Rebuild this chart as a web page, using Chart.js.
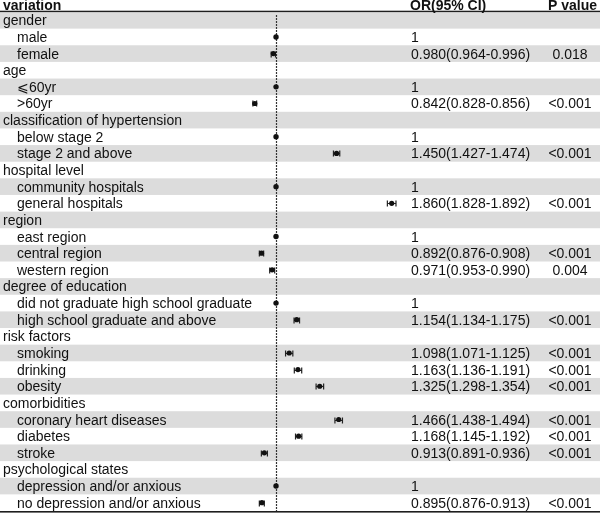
<!DOCTYPE html>
<html>
<head>
<meta charset="utf-8">
<script src="https://cdn.jsdelivr.net/npm/chart.js@4/dist/chart.umd.min.js"></script>
<style>
  html, body { margin: 0; padding: 0; background: #fff; overflow: hidden; }
  canvas { display: block; }
</style>
</head>
<body>
<canvas id="forestChart" width="600" height="515"></canvas>
<script>
const rowLabels = ['gender', 'male', 'female', 'age', '⩽60yr', '>60yr',
    'classification of hypertension', 'below stage 2', 'stage 2 and above',
    'hospital level', 'community hospitals', 'general hospitals',
    'region', 'east region', 'central region', 'western region',
    'degree of education', 'did not graduate high school graduate', 'high school graduate and above',
    'risk factors', 'smoking', 'drinking', 'obesity',
    'comorbidities', 'coronary heart diseases', 'diabetes', 'stroke',
    'psychological states', 'depression and/or anxious', 'no depression and/or anxious'];
const groupRows = [0, 3, 6, 9, 12, 16, 19, 23, 27];
const orValues = [null, 1, 0.980, null, 1, 0.842, null, 1, 1.450, null, 1, 1.860, null, 1, 0.892, 0.971,
    null, 1, 1.154, null, 1.098, 1.163, 1.325, null, 1.466, 1.168, 0.913, null, 1, 0.895];
const ciLow = [null, null, 0.964, null, null, 0.828, null, null, 1.427, null, null, 1.828, null, null, 0.876, 0.953,
    null, null, 1.134, null, 1.071, 1.136, 1.298, null, 1.438, 1.145, 0.891, null, null, 0.876];
const ciHigh = [null, null, 0.996, null, null, 0.856, null, null, 1.474, null, null, 1.892, null, null, 0.908, 0.990,
    null, null, 1.175, null, 1.125, 1.191, 1.354, null, 1.494, 1.192, 0.936, null, null, 0.913];
const pValues = ['', '', '0.018', '', '', '<0.001', '', '', '<0.001', '', '', '<0.001', '', '', '<0.001', '0.004',
    '', '', '<0.001', '', '<0.001', '<0.001', '<0.001', '', '<0.001', '<0.001', '<0.001', '', '', '<0.001'];
const headers = ['variation', 'OR(95% CI)', 'P value'];

const FONT = '"Liberation Sans", Arial, sans-serif';

const refPoints = [];
const estPoints = [];
orValues.forEach((v, i) => {
    if (v === null) return;
    if (ciLow[i] === null) refPoints.push({ x: v, y: rowLabels[i] });
    else estPoints.push({ x: v, y: rowLabels[i], lo: ciLow[i], hi: ciHigh[i] });
});

const orText = orValues.map((v, i) => {
    if (v === null) return '';
    if (ciLow[i] === null) return String(v);
    return v.toFixed(3) + '(' + ciLow[i].toFixed(3) + '-' + ciHigh[i].toFixed(3) + ')';
});

// stripes, reference line, whiskers and table text
const tablePlugin = {
    id: 'table',
    beforeDatasetsDraw(chart) {
        const ctx = chart.ctx;
        const x = chart.scales.x, y = chart.scales.y;
        const band = y.getPixelForValue(1) - y.getPixelForValue(0);
        ctx.save();
        rowLabels.forEach((lab, i) => {
            if (i % 2 === 0) {
                const cy = y.getPixelForValue(i);
                ctx.fillStyle = '#dcdcdc';
                ctx.fillRect(0, cy - band / 2, chart.width, band);
            }
        });
        // header and bottom rules
        ctx.fillStyle = '#1e1e1e';
        ctx.fillRect(0, 10.7, chart.width, 1.4);
        ctx.fillRect(0, chart.chartArea.bottom, chart.width, 1.6);

        // dashed line at OR = 1
        const x1 = Math.round(x.getPixelForValue(1)) + 0.5;
        ctx.strokeStyle = '#333';
        ctx.lineWidth = 1.2;
        ctx.setLineDash([2, 1]);
        ctx.beginPath();
        ctx.moveTo(x1, 15);
        ctx.lineTo(x1, chart.chartArea.bottom);
        ctx.stroke();
        ctx.setLineDash([]);

        // confidence intervals
        ctx.strokeStyle = '#222';
        ctx.lineWidth = 1.2;
        estPoints.forEach(p => {
            const cy = Math.round(y.getPixelForValue(p.y)) + 0.5;
            const xl = x.getPixelForValue(p.lo), xh = x.getPixelForValue(p.hi);
            ctx.beginPath();
            ctx.moveTo(xl, cy); ctx.lineTo(xh, cy);
            ctx.moveTo(xl, cy - 3); ctx.lineTo(xl, cy + 3);
            ctx.moveTo(xh, cy - 3); ctx.lineTo(xh, cy + 3);
            ctx.stroke();
        });
        ctx.restore();
    },
    afterDatasetsDraw(chart) {
        const ctx = chart.ctx;
        const y = chart.scales.y;
        ctx.save();
        ctx.fillStyle = '#111';
        ctx.textBaseline = 'alphabetic';
        ctx.font = 'bold 14px ' + FONT;
        ctx.textAlign = 'left';
        ctx.fillText(headers[0], 3, 9.5);
        ctx.fillText(headers[1], 410, 9.5);
        ctx.fillText(headers[2], 548, 9.5);

        ctx.font = '14px ' + FONT;
        rowLabels.forEach((lab, i) => {
            const base = y.getPixelForValue(i) + 5;
            ctx.textAlign = 'left';
            ctx.fillText(lab, groupRows.includes(i) ? 3 : 17, base);
            if (orText[i]) ctx.fillText(orText[i], 411, base);
            if (pValues[i]) {
                ctx.textAlign = 'center';
                ctx.fillText(pValues[i], 570, base);
            }
        });
        ctx.restore();
    }
};

const forestChart = new Chart(document.getElementById('forestChart'), {
    type: 'scatter',
    data: {
        datasets: [{
            label: 'reference',
            data: refPoints,
            pointRadius: 2.7,
            pointBackgroundColor: '#111',
            pointBorderWidth: 0
        }, {
            label: 'OR',
            data: estPoints,
            pointRadius: 2.6,
            pointBackgroundColor: '#111',
            pointBorderWidth: 0
        }]
    },
    options: {
        responsive: false,
        animation: false,
        layout: { padding: { top: 12, bottom: 3, left: 0, right: 0 } },
        plugins: { legend: { display: false }, tooltip: { enabled: false } },
        scales: {
            x: { type: 'linear', min: -1.0227, max: 3.3793, display: false },
            y: { type: 'category', labels: rowLabels, offset: true, display: false }
        }
    },
    plugins: [tablePlugin]
});
</script>
</body>
</html>
